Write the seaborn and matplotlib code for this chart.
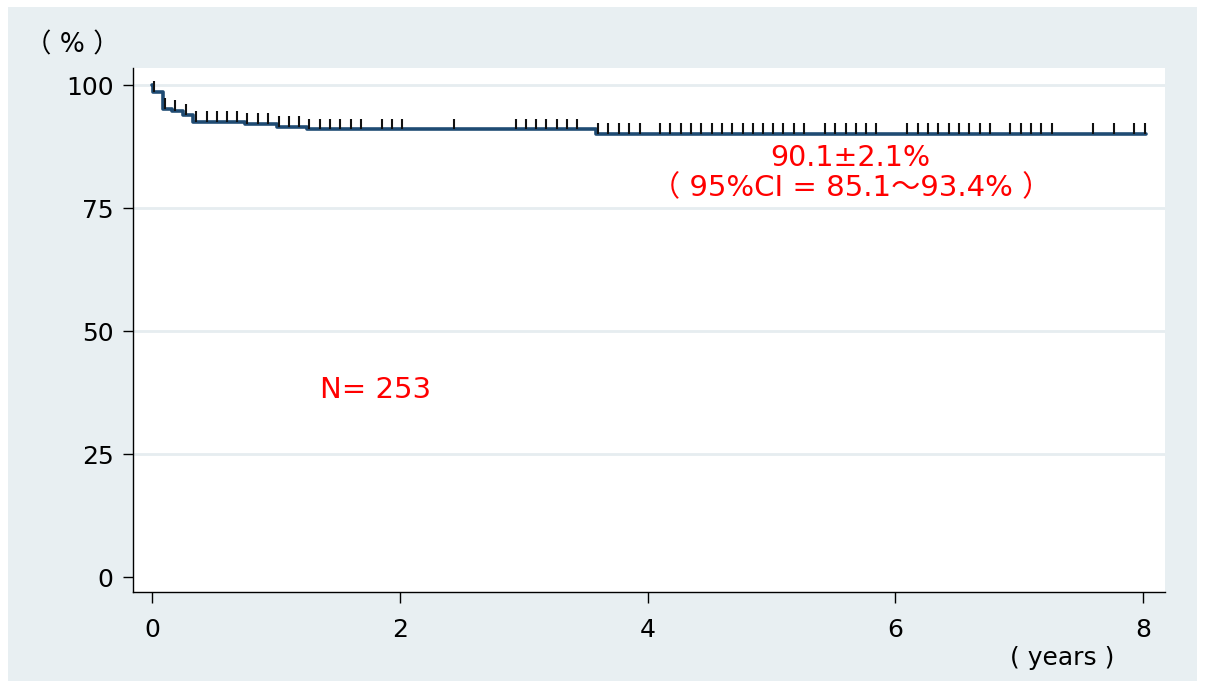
import numpy as np
import pandas as pd
import matplotlib
matplotlib.use("Agg")
import matplotlib.pyplot as plt
from matplotlib.patches import Rectangle
import seaborn as sns

# ---- data ----
step_times = [0.0, 0.01, 0.09, 0.165, 0.25, 0.33, 0.75, 1.01, 1.25, 3.58, 8.02]
step_surv = [100.0, 98.6, 95.2, 94.8, 94.0, 92.6, 92.2, 91.6, 91.0, 90.1, 90.1]

censor_times = [
    0.016, 0.105, 0.186, 0.272, 0.355, 0.442, 0.522, 0.605, 0.689, 0.769,
    0.855, 0.936, 1.025, 1.106, 1.186, 1.27, 1.354, 1.437, 1.52, 1.604,
    1.69, 1.855, 1.938, 2.02, 2.437, 2.938, 3.019, 3.10, 3.184, 3.268,
    3.349, 3.432, 3.597, 3.683, 3.769, 3.852, 3.935, 4.102, 4.183, 4.267,
    4.348, 4.431, 4.517, 4.60, 4.684, 4.767, 4.848, 4.929, 5.013, 5.095,
    5.181, 5.265, 5.429, 5.515, 5.599, 5.680, 5.763, 5.843, 6.096, 6.18,
    6.263, 6.346, 6.43, 6.513, 6.597, 6.68, 6.763, 6.927, 7.011, 7.094,
    7.178, 7.262, 7.597, 7.762, 7.928, 8.012,
]

x_ticks = [0, 2, 4, 6, 8]
y_ticks = [0, 25, 50, 75, 100]
ann_main = "90.1±2.1%"
ann_ci = "（ 95%CI = 85.1～93.4% ）"
ann_n = "N= 253"
y_unit = "（ % ）"
x_unit = "( years )"

# ---- style ----
sns.set_theme(style="white")
FONT = ["DejaVu Sans", "Noto Sans CJK JP"]
plt.rcParams["font.family"] = FONT

W, H = 1205, 687
fig = plt.figure(figsize=(W / 100, H / 100), dpi=100, facecolor="white")
bg = "#e8eff2"
fig.patches.append(Rectangle((8 / W, 6 / H), (1197 - 8) / W, (680 - 6) / H,
                             transform=fig.transFigure, facecolor=bg,
                             edgecolor="none", zorder=-10))

ax = fig.add_axes([133 / W, 1 - 592 / H, (1165 - 133) / W, (592 - 68) / H])
ax.set_zorder(5)
ax.set_facecolor("white")

df = pd.DataFrame({"t": step_times, "s": step_surv})
sns.lineplot(data=df, x="t", y="s", ax=ax, drawstyle="steps-post",
             color="#1f4b73", lw=2.6, estimator=None, sort=True, zorder=3)

# censor marks
st = np.array(step_times)
ss = np.array(step_surv)
ct = np.array(censor_times)
lvl = ss[np.searchsorted(st, ct, side="right") - 1]
ax.vlines(ct, lvl, lvl + 2.2, color="#111111", lw=1.5, zorder=4)

ax.set_xlim(-0.153, 8.176)
ax.set_ylim(-3.05, 103.5)
ax.set_xticks(x_ticks)
ax.set_yticks(y_ticks)
ax.set_xlabel("")
ax.set_ylabel("")

ax.yaxis.grid(True, color="#e6edf0", lw=2)
ax.xaxis.grid(False)
ax.yaxis.get_gridlines()[0].set_visible(False)
ax.set_axisbelow(True)

for side in ["top", "right"]:
    ax.spines[side].set_visible(False)
for side in ["left", "bottom"]:
    ax.spines[side].set_color("black")
    ax.spines[side].set_linewidth(1.0)

ax.tick_params(axis="y", direction="out", length=7, width=1, color="black",
               pad=7, labelsize=18, left=True)
ax.tick_params(axis="x", direction="out", length=8, width=1, color="black",
               pad=11, labelsize=18, bottom=True)
for lab in ax.get_xticklabels() + ax.get_yticklabels():
    lab.set_color("black")

red = "#ff0000"
ax.text(5.64, 85.2, ann_main, color=red, fontsize=20.5, ha="center", va="center")
ax.text(5.64, 79.1, ann_ci, color=red, fontsize=21, ha="center", va="center")
ax.text(1.356, 38.0, ann_n, color=red, fontsize=21, ha="left", va="center")

fig.text(72 / W, 1 - 45 / H, y_unit, fontsize=19, ha="center", va="center",
         color="black")
fig.text(1062 / W, 1 - 658 / H, x_unit, fontsize=18, ha="center", va="center",
         color="black")

fig.savefig("out.png", dpi=100, facecolor="white")
